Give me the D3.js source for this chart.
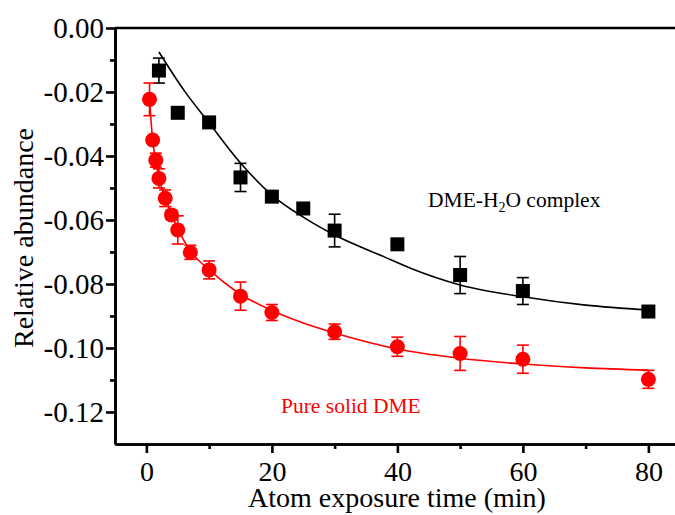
<!DOCTYPE html>
<html>
<head>
<meta charset="utf-8">
<script src="https://cdn.jsdelivr.net/npm/d3@7"></script>
<style>
  body { margin: 0; background: #fff; }
  text { font-family: "Liberation Serif", "Times New Roman", serif; }
</style>
</head>
<body>
<div id="chart"></div>
<script>
// Measured points (time in min, relative abundance)
const redTimes = [0.5, 1, 1.5, 2, 3, 4, 5, 7, 10, 15, 20, 30, 40, 50, 60, 80];
const redValues = [-0.0223, -0.035, -0.0413, -0.047, -0.0532, -0.0584, -0.0631, -0.0701, -0.0756, -0.0838, -0.0889, -0.0949, -0.0996, -0.1017, -0.1035, -0.1098];
const redErrors = [0.0051, 0.001, 0.0022, 0.003, 0.0026, 0.0015, 0.0044, 0.0022, 0.0028, 0.0044, 0.0025, 0.0024, 0.003, 0.0053, 0.0044, 0.0028];

const blackTimes = [2, 5, 10, 15, 20, 25, 30, 40, 50, 60, 80];
const blackValues = [-0.0133, -0.0265, -0.0295, -0.0467, -0.0527, -0.0564, -0.0633, -0.0676, -0.0772, -0.0822, -0.0886];
const blackErrors = [0.0039, 0.0005, 0.0008, 0.0044, 0.0008, 0.0008, 0.0051, 0.0012, 0.0058, 0.0042, 0.0008];

// Fitted curves
const redFitTimes = [0.5, 1, 1.5, 2, 3, 4, 5, 7, 10, 15, 20, 25, 30, 40, 50, 60, 70, 80];
const redFitValues = [-0.0222, -0.035, -0.0415, -0.0468, -0.053, -0.0582, -0.0627, -0.0697, -0.0755, -0.0832, -0.0883, -0.0922, -0.0953, -0.1003, -0.1032, -0.105, -0.1062, -0.1069];
const blackFitTimes = [2, 6, 10, 15, 20, 25, 30, 38, 42, 50, 60, 70, 80];
const blackFitValues = [-0.0075, -0.0195, -0.0297, -0.0422, -0.0522, -0.0591, -0.0647, -0.0716, -0.075, -0.0803, -0.084, -0.0866, -0.0881];

const xTicks = [0, 20, 40, 60, 80];
const xMinorTicks = [10, 30, 50, 70];
const yTicks = [0, -0.02, -0.04, -0.06, -0.08, -0.10, -0.12];
const yMinorTicks = [-0.01, -0.03, -0.05, -0.07, -0.09, -0.11];

const W = 675, H = 515;
const plotLeft = 115, plotTop = 28, plotBottom = 444;

const svg = d3.select("#chart").append("svg")
    .attr("width", W)
    .attr("height", H);

const x = d3.scaleLinear().domain([-5, 90]).range([plotLeft, plotLeft + 95 * 6.275]);
const y = d3.scaleLinear().domain([-0.13, 0]).range([plotBottom, plotTop]);

// axes
const xAxis = svg.append("g")
    .attr("transform", `translate(0,${plotBottom})`)
    .call(d3.axisBottom(x).tickValues(xTicks).tickSize(9).tickSizeOuter(0).tickPadding(8).tickFormat(d3.format("d")));
svg.append("g")
    .attr("transform", `translate(0,${plotBottom})`)
    .call(d3.axisBottom(x).tickValues(xMinorTicks).tickSize(5).tickSizeOuter(0).tickFormat(""));

const yAxis = svg.append("g")
    .attr("transform", `translate(${plotLeft},0)`)
    .call(d3.axisLeft(y).tickValues(yTicks).tickSize(9).tickSizeOuter(0).tickPadding(2));
svg.append("g")
    .attr("transform", `translate(${plotLeft},0)`)
    .call(d3.axisLeft(y).tickValues(yMinorTicks).tickSize(5).tickSizeOuter(0).tickFormat(""));

svg.selectAll(".domain").attr("stroke", "#000").attr("stroke-width", 2.6);
svg.selectAll(".tick line").attr("stroke", "#000").attr("stroke-width", 2.6);
svg.selectAll(".tick text").attr("fill", "#000")
    .attr("font-family", "Liberation Serif, Times New Roman, serif");
xAxis.selectAll(".tick text").style("font-size", "28px");
yAxis.selectAll(".tick text").style("font-size", "29px")
    .text(d => d3.format(".2f")(d).replace("\u2212", "-"));

// top frame line
svg.append("line")
    .attr("x1", plotLeft).attr("x2", W)
    .attr("y1", y(0)).attr("y2", y(0))
    .attr("stroke", "#000").attr("stroke-width", 2.6);

// axis titles
svg.append("text")
    .attr("x", 397).attr("y", 507)
    .attr("text-anchor", "middle")
    .style("font-size", "28px")
    .text("Atom exposure time (min)");

svg.append("text")
    .attr("transform", "translate(33,238) rotate(-90)")
    .attr("text-anchor", "middle")
    .style("font-size", "28px")
    .text("Relative abundance");

// fit curves
const line = d3.line().x(d => x(d[0])).y(d => y(d[1])).curve(d3.curveMonotoneX);

svg.append("path")
    .datum(blackFitTimes.map((t, i) => [t, blackFitValues[i]]))
    .attr("d", line)
    .attr("fill", "none").attr("stroke", "#000").attr("stroke-width", 1.6);

svg.append("path")
    .datum(redFitTimes.map((t, i) => [t, redFitValues[i]]))
    .attr("d", line)
    .attr("fill", "none").attr("stroke", "#ff0000").attr("stroke-width", 1.6);

// error bars
function errorBars(times, values, errors, color) {
    const g = svg.append("g").attr("stroke", color).attr("stroke-width", 1.6);
    const data = times.map((t, i) => ({ t, v: values[i], e: errors[i] }));
    g.selectAll(".stem").data(data).join("line").attr("class", "stem")
        .attr("x1", d => x(d.t)).attr("x2", d => x(d.t))
        .attr("y1", d => y(d.v + d.e)).attr("y2", d => y(d.v - d.e));
    g.selectAll(".capTop").data(data).join("line").attr("class", "capTop")
        .attr("x1", d => x(d.t) - 6).attr("x2", d => x(d.t) + 6)
        .attr("y1", d => y(d.v + d.e)).attr("y2", d => y(d.v + d.e));
    g.selectAll(".capBot").data(data).join("line").attr("class", "capBot")
        .attr("x1", d => x(d.t) - 6).attr("x2", d => x(d.t) + 6)
        .attr("y1", d => y(d.v - d.e)).attr("y2", d => y(d.v - d.e));
}
errorBars(blackTimes, blackValues, blackErrors, "#000");
errorBars(redTimes, redValues, redErrors, "#ff0000");

// markers
svg.append("g").selectAll("rect")
    .data(blackTimes.map((t, i) => [t, blackValues[i]]))
    .join("rect")
    .attr("x", d => x(d[0]) - 7)
    .attr("y", d => y(d[1]) - 7)
    .attr("width", 14).attr("height", 14)
    .attr("fill", "#000");

svg.append("g").selectAll("circle")
    .data(redTimes.map((t, i) => [t, redValues[i]]))
    .join("circle")
    .attr("cx", d => x(d[0]))
    .attr("cy", d => y(d[1]))
    .attr("r", 7.5)
    .attr("fill", "#ff0000");

// annotations
const lab = svg.append("text")
    .attr("x", 428).attr("y", 207)
    .style("font-size", "21.5px")
    .attr("fill", "#000");
lab.append("tspan").text("DME-H");
lab.append("tspan").attr("dy", 5).style("font-size", "14px").text("2");
lab.append("tspan").attr("dy", -5).text("O complex");

svg.append("text")
    .attr("x", 281).attr("y", 413)
    .style("font-size", "21.5px")
    .attr("fill", "#ff0000")
    .text("Pure solid DME");
</script>
</body>
</html>
